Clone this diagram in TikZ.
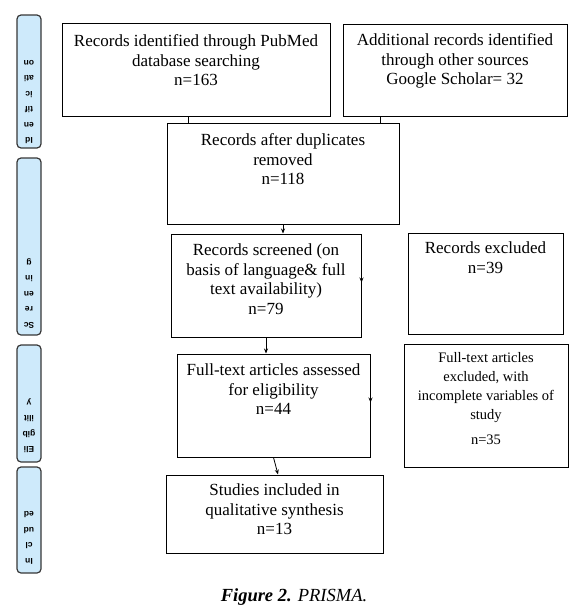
\documentclass[tikz,border=0pt]{standalone}
\usepackage{fontspec}
\setmainfont{Liberation Serif}
\newfontfamily\sidefont{Liberation Sans}
\usetikzlibrary{arrows.meta}
\definecolor{stagefill}{RGB}{206,234,251}
\definecolor{stageline}{RGB}{55,55,55}
% text box of fixed size, text pushed to the top
\newcommand{\topbox}[4]{\parbox[c][#2][t]{#1}{\vspace*{#3}\centering #4}}

\begin{document}
\begin{tikzpicture}[x=1pt, y=-1pt,
    box/.style={draw, line width=1pt, inner sep=0pt,
                font=\fontsize{17}{19.5}\selectfont},
    stage/.style={draw=stageline, fill=stagefill, line width=1.2pt,
                  rounded corners=4pt, inner sep=0pt, rotate=180,
                  font=\sidefont\bfseries\fontsize{8.5}{15.5}\selectfont},
    arr/.style={-{Stealth[length=5pt, width=4pt]}, line width=0.8pt}
  ]
  \useasboundingbox (0,0) rectangle (582,616);

  \node[stage] (ident) at (29,81.5) {\topbox{24pt}{133pt}{4pt}{Id\\en\\tif\\ic\\ati\\on}};
  \node[stage] (screen) at (29,246.5) {\topbox{24pt}{177pt}{7pt}{Sc\\re\\en\\in\\g}};
  \node[stage] (elig) at (29,403.5) {\topbox{24pt}{117pt}{9pt}{Eli\\gib\\ilit\\y}};
  \node[stage] (incl) at (29,520) {\topbox{24pt}{106pt}{9pt}{In\\cl\\ud\\ed}};

  \node[box] (pubmed) at (196,69.5) {\topbox{268pt}{93pt}{12pt}{Records identified through PubMed\\database searching\\n=163}};
  \node[box] (other) at (455,70) {\topbox{224pt}{92pt}{10pt}{Additional records identified\\through other sources\\Google Scholar= 32}};
  \node[box] (dedup) at (283,173.5) {\topbox{232pt}{101pt}{11pt}{Records after duplicates\\removed\\n=118}};
  \node[box] (screened) at (266,285.5) {\topbox{190pt}{103pt}{10pt}{Records screened (on\\basis of language\& full\\text availability)\\n=79}};
  \node[box] (excl) at (485.5,283.5) {\topbox{155pt}{101pt}{9pt}{Records excluded\\n=39}};
  \node[box] (full) at (273.5,405.5) {\topbox{193pt}{103pt}{10pt}{Full-text articles assessed\\for eligibility\\n=44}};
  \node[box, font=\fontsize{14.5}{19}\selectfont] (fullexcl) at (486,405.5) {\topbox{164pt}{123pt}{8pt}{Full-text articles\\excluded, with\\incomplete variables of\\study\\[6pt]n=35}};
  \node[box] (included) at (274.5,514) {\topbox{217pt}{78pt}{9pt}{Studies included in\\qualitative synthesis\\n=13}};

  \node (caption) at (294,597) {\fontsize{18.5}{20}\selectfont\bfseries\itshape Figure 2. \mdseries PRISMA.};

  \draw[line width=0.8pt] ([xshift=-8pt]pubmed.south) -- ([xshift=-8pt]pubmed.south |- dedup.north);
  \draw[line width=0.8pt] ([xshift=-19pt]dedup.north east) -- ([xshift=-19pt]dedup.north east |- other.south);
  \draw[arr] (dedup.south) -- (dedup.south |- screened.north);
  \draw[arr] (screened.south) -- (screened.south |- full.north);
  \draw[arr] (full.south) -- ([xshift=3.5pt]included.north);
  \draw[arr] ([yshift=9pt]screened.east) -- ([yshift=3pt]screened.east);
  \draw[arr] ([yshift=9pt]full.east) -- ([yshift=3pt]full.east);
\end{tikzpicture}
\end{document}
